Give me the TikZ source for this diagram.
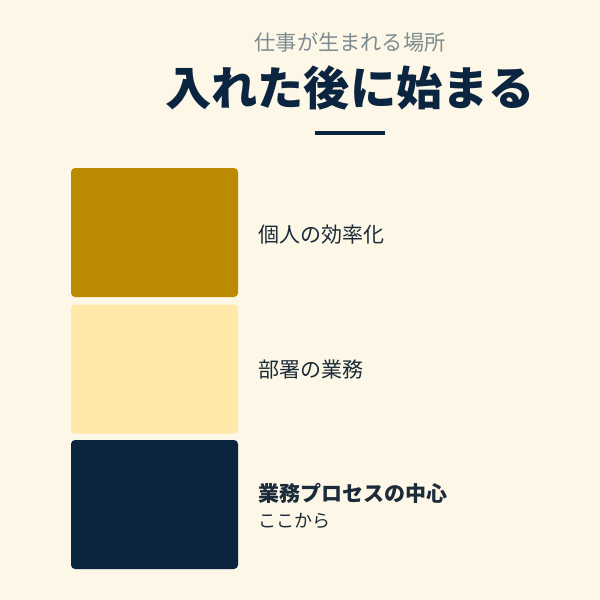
\documentclass[tikz,border=0pt]{standalone}
\usepackage{fontspec}
\setmainfont{Noto Sans CJK JP}
\usepackage{tikz}

\definecolor{cream}{HTML}{FDF7E7}
\definecolor{gold}{HTML}{BC8A00}
\definecolor{pale}{HTML}{FFE8A8}
\definecolor{navy}{HTML}{0B2540}
\definecolor{ink}{HTML}{1C2B3A}
\definecolor{subgray}{HTML}{7E8C90}

\tikzset{
    block/.style = {rectangle,
        rounded corners = 2pt,
        inner sep = 0pt,
        minimum width = 83.5pt,
        minimum height = 64.5pt},
    label/.style = {anchor = west,
        inner sep = 0pt,
        text = ink,
        font = \fontsize{10.5}{12}\selectfont}
}

\begin{document}
\begin{tikzpicture}[x=0.5pt,y=-0.5pt]

\fill[cream] (0,0) rectangle (600,600);
\useasboundingbox (0,0) rectangle (600,600);

\node[text = subgray,
    font = \fontsize{10.6}{12}\selectfont] (sub) at (350,42) {仕事が生まれる場所};

\node[text = navy,
    font = \fontsize{23.1}{27}\selectfont\bfseries] (title) at (350,88) {入れた後に始まる};

\node[rectangle,
    fill = navy,
    inner sep = 0pt,
    minimum width = 35pt,
    minimum height = 2pt] (bar) at (350,133) {};

\node[block, fill = gold] (b1) at (154.5,232.5) {};
\node[block, fill = pale] (b2) at (154.5,369) {};
\node[block, fill = navy] (b3) at (154.5,504.5) {};

\node[label] (l1) at (258,235) {個人の効率化};
\node[label] (l2) at (258,370) {部署の業務};
\node[label, font = \fontsize{10.5}{12}\selectfont\bfseries] (l3) at (258,493) {業務プロセスの中心};
\node[label, font = \fontsize{9}{11}\selectfont] (l4) at (258,521) {ここから};

\end{tikzpicture}
\end{document}
